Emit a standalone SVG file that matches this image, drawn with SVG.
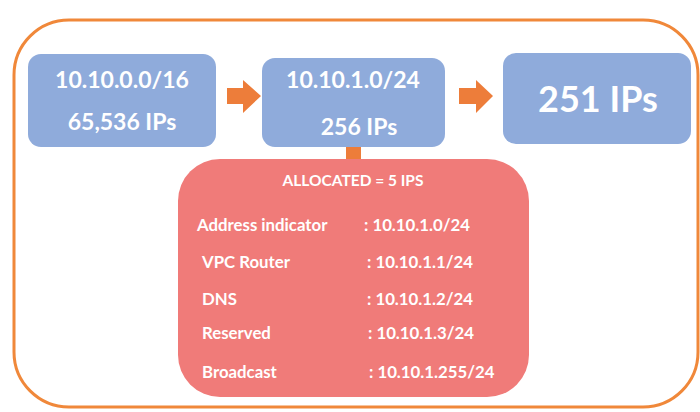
<svg xmlns="http://www.w3.org/2000/svg" width="700" height="412" viewBox="0 0 700 412">
<style>
.blue{fill:#8FABDB}
.t{font-family:Lato,"Open Sans","Liberation Sans",sans-serif;font-weight:bold;fill:#fff}
.arr{fill:#ED7D3A}
</style>
<rect x="0" y="0" width="700" height="412" fill="#fff"/>
<rect id="frame" x="14" y="20" width="684" height="387" rx="55" ry="55" fill="none" stroke="#F0883A" stroke-width="3"/>
<g id="connectors">
<polygon class="arr" points="227,88 243,88 243,80 261,96 243,113 243,104 227,104"/>
<polygon class="arr" points="459,88 476,88 476,80 493,96 476,113 476,104 459,104"/>
<rect class="arr" x="346" y="146" width="15" height="15"/>
</g>
<g id="n1">
<rect class="blue" x="28" y="54" width="188" height="93" rx="13"/>
<text class="t" x="122" y="88" font-size="23" text-anchor="middle">10.10.0.0/16</text>
<text class="t" x="122" y="130" font-size="23" text-anchor="middle">65,536 IPs</text>
</g>
<g id="n2">
<rect class="blue" x="262" y="58" width="183" height="89" rx="13"/>
<text class="t" x="353" y="88" font-size="23" text-anchor="middle">10.10.1.0/24</text>
<text class="t" x="359" y="135" font-size="23" text-anchor="middle">256 IPs</text>
</g>
<g id="n3">
<rect class="blue" x="503" y="53" width="188" height="91" rx="13"/>
<text class="t" x="598" y="112" font-size="36" text-anchor="middle">251 IPs</text>
</g>
<g id="alloc">
<rect x="178" y="159" width="351" height="238" rx="42" fill="#F07B79"/>
<text class="t" x="353" y="186" font-size="15.5" text-anchor="middle">ALLOCATED = 5 IPS</text>
<g font-size="16.8">
<text class="t" x="197" y="231">Address indicator</text>
<text class="t" x="364" y="231">: 10.10.1.0/24</text>
<text class="t" x="202" y="268">VPC Router</text>
<text class="t" x="367" y="268">: 10.10.1.1/24</text>
<text class="t" x="202" y="305">DNS</text>
<text class="t" x="367" y="305">: 10.10.1.2/24</text>
<text class="t" x="202" y="339">Reserved</text>
<text class="t" x="368" y="339">: 10.10.1.3/24</text>
<text class="t" x="202" y="378">Broadcast</text>
<text class="t" x="369" y="378">: 10.10.1.255/24</text>
</g>
</g>
</svg>
